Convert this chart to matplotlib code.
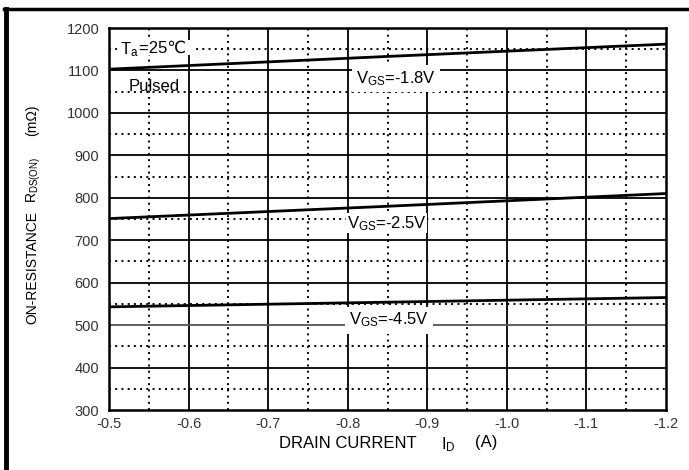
import matplotlib
matplotlib.use("Agg")
import matplotlib.pyplot as plt
from matplotlib.lines import Line2D

plt.rcParams['font.family'] = ['Liberation Sans', 'DejaVu Sans']
plt.rcParams['mathtext.fontset'] = 'custom'
plt.rcParams['mathtext.rm'] = 'Liberation Sans'
plt.rcParams['mathtext.it'] = 'Liberation Sans'

# Data
drain_current = [-0.5, -0.85, -1.2]
r_vgs_18 = [1103, 1133, 1162]
r_vgs_25 = [751, 780, 810]
r_vgs_45 = [543, 554, 565]

x_major = [-0.5, -0.6, -0.7, -0.8, -0.9, -1.0, -1.1, -1.2]
x_labels = ['-0.5', '-0.6', '-0.7', '-0.8', '-0.9', '-1.0', '-1.1', '-1.2']
x_minor = [-0.55, -0.65, -0.75, -0.85, -0.95, -1.05, -1.15]
y_major = [300, 400, 500, 600, 700, 800, 900, 1000, 1100, 1200]
y_minor = [350, 450, 550, 650, 750, 850, 950, 1050, 1150]

W, H = 689, 470
fig = plt.figure(figsize=(W/100, H/100), dpi=100)
ax = fig.add_axes([109/W, 1-410/H, 557/W, 382/H])
ax.set_xlim(-0.5, -1.2)
ax.set_ylim(300, 1200)

# grid
for x in x_major[1:-1]:
    ax.axvline(x, color='black', lw=1.3, zorder=1)
for x in x_minor:
    ax.axvline(x, color='black', lw=1.4, ls=(0, (1, 2.2)), zorder=1)
for y in y_major[1:-1]:
    c = '#555555' if y == 500 else 'black'
    ax.axhline(y, color=c, lw=1.3, zorder=1)
for y in y_minor:
    ax.axhline(y, color='black', lw=1.4, ls=(0, (1, 2.2)), zorder=1)

for s in ax.spines.values():
    s.set_linewidth(1.8)

ax.plot(drain_current, r_vgs_18, color='black', lw=2, zorder=3)
ax.plot(drain_current, r_vgs_25, color='black', lw=2, zorder=3)
ax.plot(drain_current, r_vgs_45, color='black', lw=2, zorder=3)

ax.set_xticks(x_major)
ax.set_xticklabels(x_labels)
ax.set_yticks(y_major)
ax.tick_params(length=0, labelsize=10.5, labelcolor='#333333')
ax.tick_params(axis='y', pad=7)
ax.tick_params(axis='x', pad=5)

fs = 12
# T_a = 25 C label
t1 = ax.text(-0.514, 1148, r'T$_{\mathrm{a}}$', fontsize=fs, va='center', ha='left',
             bbox=dict(facecolor='white', edgecolor='none', pad=2.5), zorder=4)
ax.annotate('=25℃  ', xy=(1, 0.62), xycoords=t1, xytext=(0.3, 0),
            textcoords='offset points', fontsize=fs, va='center', ha='left',
            bbox=dict(facecolor='white', edgecolor='none', pad=0), zorder=5)
ax.text(-0.525, 1062, 'Pulsed', fontsize=fs, va='center', ha='left', zorder=4)
ax.text(-0.81, 1080, r'V$_{\mathrm{GS}}$=-1.8V', fontsize=fs, va='center', ha='left',
        bbox=dict(facecolor='white', edgecolor='none', pad=3), zorder=4)
ax.text(-0.799, 740, r'V$_{\mathrm{GS}}$=-2.5V', fontsize=fs, va='center', ha='left',
        bbox=dict(facecolor='white', edgecolor='none', pad=0.5), zorder=4)
ax.text(-0.802, 512, r'V$_{\mathrm{GS}}$=-4.5V', fontsize=fs, va='center', ha='left',
        bbox=dict(facecolor='white', edgecolor='none', pad=3), zorder=4)

lfs = 12
fig.text(279/W, 1-443/H, 'DRAIN CURRENT', fontsize=lfs, ha='left', va='center')
fig.text(441/W, 1-445/H, r'I$_{\mathrm{D}}$', fontsize=lfs, ha='left', va='center')
fig.text(475/W, 1-443/H, '(A)', fontsize=lfs, ha='left', va='center')
fig.text(32/W, 1-267/H, 'ON-RESISTANCE', fontsize=10, ha='center', va='center',
         rotation=90)
fig.text(34/W, 1-180/H, r'R$_{\mathrm{DS(ON)}}$', fontsize=10, ha='center', va='center',
         rotation=90)
fig.text(32/W, 1-120/H, '(mΩ)', fontsize=10, ha='center', va='center', rotation=90)

# figure frame
fig.add_artist(Line2D([5.5/W, 5.5/W], [0, 1-9/H], color='black', lw=3.5,
                      transform=fig.transFigure))
fig.add_artist(Line2D([4/W, 1], [1-9/H, 1-9/H], color='black', lw=2.5,
                      transform=fig.transFigure))

fig.savefig('out.png', dpi=100)
